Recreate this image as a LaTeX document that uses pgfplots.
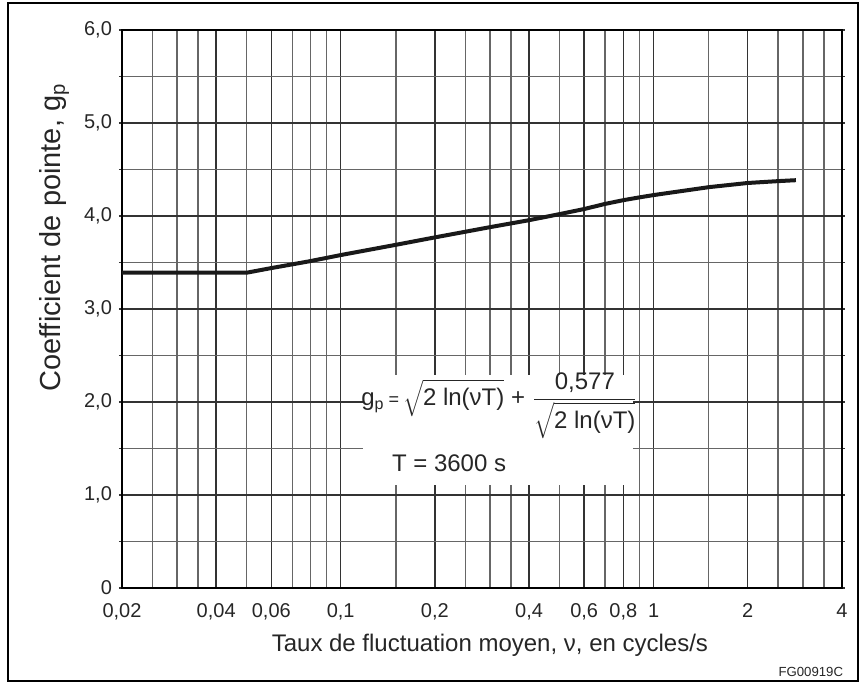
\documentclass[border=0pt]{standalone}
\usepackage{pgfplots}
\pgfplotsset{compat=1.18}
\usepackage{fontspec}
\setmainfont{Liberation Sans}

% curve
\pgfplotstableread{
nu     g
0.02   3.39
0.05   3.39
0.06   3.44
0.07   3.48
0.08   3.515
0.1    3.58
0.15   3.69
0.2    3.77
0.3    3.88
0.4    3.955
0.5    4.02
0.6    4.075
0.7    4.13
0.8    4.17
0.9    4.20
1      4.225
1.5    4.31
2      4.355
2.5    4.375
2.85   4.385
}\gpdata

\begin{document}
\begin{tikzpicture}
\useasboundingbox (-61pt,-48.5pt) rectangle (372.5pt,294pt);
\draw[line width=0.8pt] (-57pt,-46.5pt) rectangle (368pt,292.5pt);
\begin{axis}[
    at={(0,0)}, anchor=south west,
    scale only axis,
    width=360pt, height=279pt,
    xmode=log,
    xmin=0.02, xmax=4,
    ymin=0, ymax=6,
    axis line style={line width=0.9pt},
    xtick={0.02,0.04,0.06,0.1,0.2,0.4,0.6,0.8,1,2,4},
    xticklabels={{0,02},{0,04},{0,06},{0,1},{0,2},{0,4},{0,6},{0,8},1,2,4},
    minor xtick={0.025,0.03,0.035,0.05,0.07,0.08,0.09,0.15,0.25,0.3,0.35,0.5,0.7,0.9,1.5,2.5,3,3.5},
    ytick={0,1,2,3,4,5,6},
    yticklabels={0,{1,0},{2,0},{3,0},{4,0},{5,0},{6,0}},
    minor ytick={0.5,1.5,2.5,3.5,4.5,5.5},
    tick align=outside,
    major tick length=1.5pt, minor tick length=1.5pt,
    ytick style={black!80, line width=0.7pt},
    xtick style={draw=none},
    minor x tick style={draw=none},
    grid=both,
    major grid style={black!80, line width=0.7pt},
    minor grid style={black!60, line width=0.7pt},
    tick label style={font=\fontsize{10}{11}\selectfont, text=black!85},
    xticklabel style={anchor=north, text height=7.5pt, text depth=2pt, yshift=-2pt},
    xlabel={Taux de fluctuation moyen, ν, en cycles/s},
    ylabel={Coefficient de pointe, g\textsubscript{p}},
    xlabel style={font=\fontsize{12}{14}\selectfont, text=black!85,
        at={(axis description cs:0.511,-0.102)}, anchor=center},
    ylabel style={font=\fontsize{14.5}{16}\selectfont, text=black!85,
        at={(axis description cs:-0.094,0.628)}, anchor=center},
    clip=false,
]
\addplot[black!90, line width=2pt] table[x=nu, y=g] {\gpdata};
\fill[white] (axis cs:0.1175,1.108) rectangle (axis cs:0.862,2.29);
\node[font=\fontsize{12}{14}\selectfont, text=black!85, anchor=center, inner sep=0pt]
    at (axis cs:0.322,1.96)
    {g\textsubscript{p}\,{\fontsize{9}{10}\selectfont =}\,$\sqrt{\mbox{2 ln(νT)}}$ + $\displaystyle\frac{\mbox{0,577}}{\sqrt{\mbox{2 ln(νT)}}}$};
\node[font=\fontsize{12}{14}\selectfont, text=black!85, anchor=center]
    at (axis cs:0.222,1.344) {T = 3600 s};
\node[font=\fontsize{6.6}{8}\selectfont, text=black!85, anchor=center]
    at (axis cs:3.18,-0.903) {FG00919C};
\end{axis}
\end{tikzpicture}
\end{document}
